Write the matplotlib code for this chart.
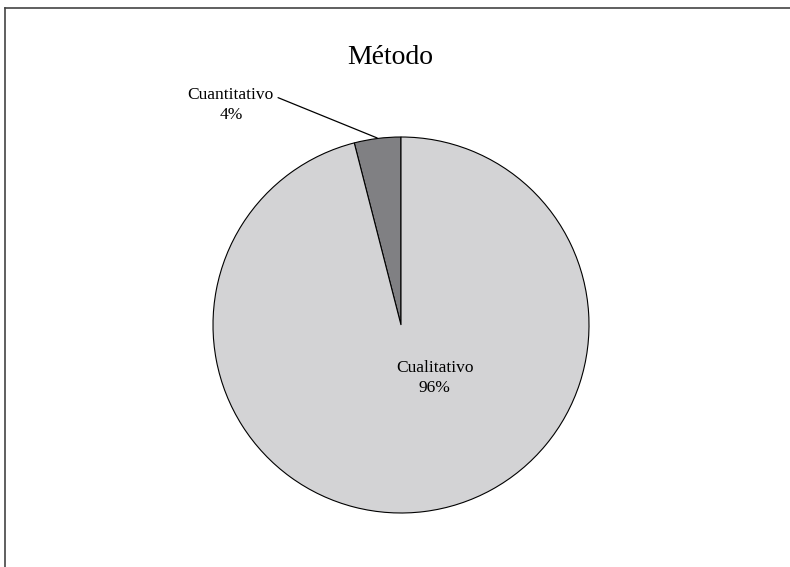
import matplotlib
matplotlib.use("Agg")
import matplotlib.pyplot as plt
from matplotlib.lines import Line2D

plt.rcParams["font.family"] = ["Liberation Serif", "DejaVu Serif"]

labels = ["Cuantitativo", "Cualitativo"]
values = [4, 96]
colors = ["#808083", "#d3d3d5"]
title = "Método"

W, H = 790, 567
fig = plt.figure(figsize=(W / 100, H / 100), dpi=100)
cx, cy, r = 401, 325, 188
ax = fig.add_axes([(cx - r) / W, (H - cy - r) / H, 2 * r / W, 2 * r / H])
wedges, _ = ax.pie(values, colors=colors, startangle=90, counterclock=True,
                   wedgeprops={"edgecolor": "black", "linewidth": 0.8})
ax.set_xlim(-1, 1); ax.set_ylim(-1, 1); ax.set_aspect("equal")
ax.axis("off")

# frame pieces (only top and left visible in the crop)
fig.add_artist(Line2D([5 / W, 5 / W], [0, 1 - 8 / H], transform=fig.transFigure, color="#444444", lw=1.2))
fig.add_artist(Line2D([5 / W, 1], [1 - 8 / H, 1 - 8 / H], transform=fig.transFigure, color="#444444", lw=1.2))

fig.text(390 / W, 1 - 58 / H, title, ha="center", va="center", fontsize=20)

ax.annotate("%s\n%d%%" % (labels[0], values[0]), xy=(-0.127, 0.995), xytext=(-0.905, 1.17),
            ha="center", va="center", fontsize=12.5, linespacing=1.35,
            arrowprops=dict(arrowstyle="-", color="black", lw=0.9, shrinkA=1, shrinkB=0,
                            relpos=(1.0, 0.75)))
ax.text(0.18, -0.28, "%s\n%d%%" % (labels[1], values[1]), ha="center", va="center",
        fontsize=12.5, linespacing=1.35)

fig.savefig("out.png", dpi=100)
